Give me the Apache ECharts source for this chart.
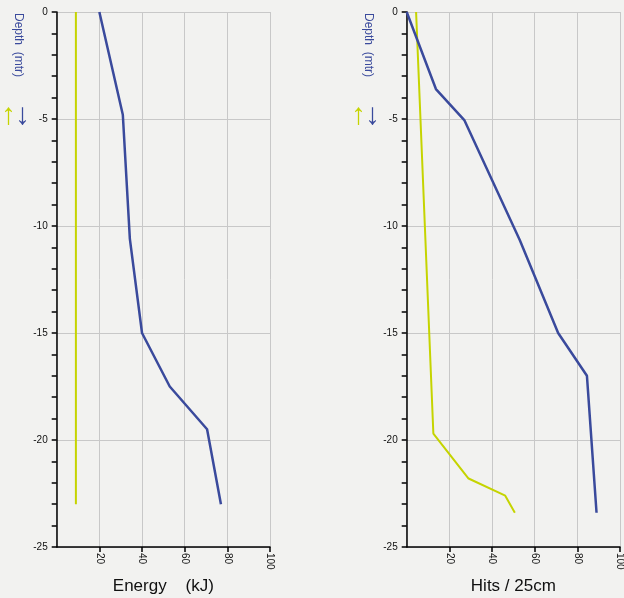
<!DOCTYPE html>
<html><head><meta charset="utf-8">
<script src="https://cdn.jsdelivr.net/npm/echarts@6/dist/echarts.min.js"></script>
<style>html,body{margin:0;padding:0;background:#f2f2f0;}#c{width:624px;height:598px;}</style>
</head><body><div id="c"></div>
<script>
// Left panel: Energy (kJ) vs depth (m)
const energyBlueX = [20, 31, 34.3, 40, 53, 70.5, 77];
const energyBlueDepth = [0, -4.8, -10.6, -15, -17.5, -19.5, -23];
const energyYellowX = [9, 9];
const energyYellowDepth = [0, -23];
// Right panel: Hits / 25cm vs depth (m)
const hitsBlueX = [0, 13.7, 27, 53, 71, 84.5, 89];
const hitsBlueDepth = [0, -3.6, -5.05, -10.65, -15, -17, -23.4];
const hitsYellowX = [4.4, 12.5, 29, 46.2, 50.7];
const hitsYellowDepth = [0, -19.7, -21.8, -22.6, -23.4];
const xTicks = [0, 20, 40, 60, 80, 100];
const yTicks = [0, -5, -10, -15, -20, -25];

const BLUE = '#3a4a9c';
const YELLOW = '#c5d400';
const pair = (xs, ys) => xs.map((v, i) => [v, ys[i]]);

function xAxis(gi, name) {
  return {
    type: 'value', gridIndex: gi, min: xTicks[0], max: xTicks[xTicks.length - 1], interval: 20,
    position: 'bottom',
    name: name, nameLocation: 'middle', nameGap: 31,
    nameTextStyle: {fontSize: 17, color: '#111', fontFamily: 'Liberation Sans'},
    axisLine: {show: true, onZero: false, lineStyle: {color: '#000', width: 1.5}},
    axisTick: {show: true, length: 5, lineStyle: {color: '#000', width: 1.5}},
    axisLabel: {rotate: -90, showMinLabel: false, fontSize: 10, color: '#111', margin: 6, fontFamily: 'Liberation Sans'},
    splitLine: {show: true, lineStyle: {color: '#c8c8c8', width: 1}}
  };
}
function yAxis(gi) {
  return {
    type: 'value', gridIndex: gi, min: yTicks[yTicks.length - 1], max: yTicks[0], interval: 5,
    position: 'left',
    axisLine: {show: true, onZero: false, lineStyle: {color: '#000', width: 1.5}},
    axisTick: {show: true, length: 5, lineStyle: {color: '#000', width: 1.5}},
    minorTick: {show: true, splitNumber: 5, length: 5, lineStyle: {color: '#000', width: 1.5}},
    axisLabel: {fontSize: 10, color: '#111', margin: 9, fontFamily: 'Liberation Sans'},
    splitLine: {show: true, lineStyle: {color: '#c8c8c8', width: 1}}
  };
}
function line(gi, data, color, w) {
  return {type: 'line', xAxisIndex: gi, yAxisIndex: gi, data: data, showSymbol: false, symbol: 'none',
    lineStyle: {color: color, width: w}, itemStyle: {color: color}, animation: false, z: 3};
}
function sideLabels(x) {
  return [
    {type: 'text', x: x + 6, y: 13, rotation: -Math.PI / 2,
     style: {text: 'Depth  (mtr)', fill: BLUE, fontSize: 12, fontFamily: 'Liberation Sans', textAlign: 'left', textVerticalAlign: 'middle'}},
    {type: 'text', x: x - 3.5, y: 116,
     style: {text: '↑', fill: YELLOW, fontSize: 30, fontFamily: 'Liberation Sans', textAlign: 'center', textVerticalAlign: 'middle'}},
    {type: 'text', x: x + 10.5, y: 116,
     style: {text: '↓', fill: BLUE, fontSize: 30, fontFamily: 'Liberation Sans', textAlign: 'center', textVerticalAlign: 'middle'}}
  ];
}

const chart = echarts.init(document.getElementById('c'));
chart.setOption({
  backgroundColor: '#f2f2f0',
  animation: false,
  grid: [
    {left: 56.7, top: 12, width: 213.3, height: 535, outerBoundsMode: 'none', containLabel: false},
    {left: 406.7, top: 12, width: 213.3, height: 535, outerBoundsMode: 'none', containLabel: false}
  ],
  xAxis: [xAxis(0, 'Energy    (kJ)'), xAxis(1, 'Hits / 25cm')],
  yAxis: [yAxis(0), yAxis(1)],
  series: [
    line(0, pair(energyYellowX, energyYellowDepth), YELLOW, 2),
    line(0, pair(energyBlueX, energyBlueDepth), BLUE, 2.5),
    line(1, pair(hitsYellowX, hitsYellowDepth), YELLOW, 2),
    line(1, pair(hitsBlueX, hitsBlueDepth), BLUE, 2.5)
  ],
  graphic: sideLabels(12).concat(sideLabels(362))
});
</script></body></html>
